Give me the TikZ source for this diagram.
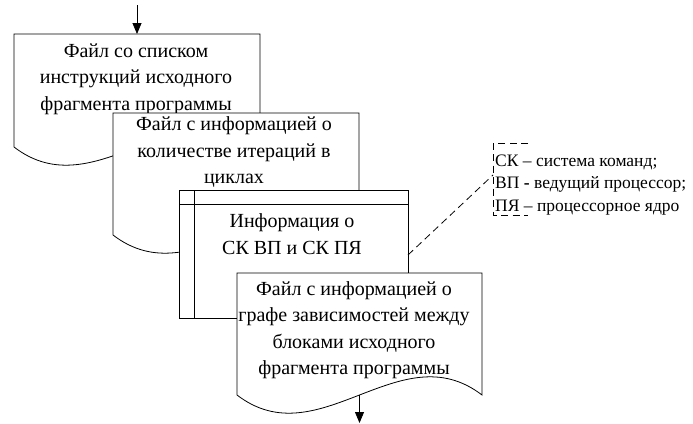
\documentclass[tikz,border=0pt]{standalone}
\usepackage{fontspec}
\setmainfont{Liberation Serif}
\newfontfamily\tnr{Liberation Serif}
\usetikzlibrary{arrows.meta}
\begin{document}
\begin{tikzpicture}[x=1pt,y=-1pt,
  blk/.style={draw, fill=white, line width=0.8pt},
  txt/.style={font=\tnr\fontsize{20}{26.5}\selectfont, align=center, inner sep=0pt},
  leg/.style={font=\tnr\fontsize{17.5}{22.5}\selectfont, align=left, inner sep=0pt},
  arr/.style={line width=0.8pt, -{Triangle[length=11pt,width=9pt]}},
  dsh/.style={line width=0.8pt, dash pattern=on 7pt off 4.5pt}]
\useasboundingbox (0,0) rectangle (693,423);
% block 1 (document)
\draw[blk] (14,34) -- (260,34) -- (260,147)
  .. controls (178,84) and (96,210) .. (14,147) -- cycle;
\node[txt] (t1) at (136,79) {Файл со списком\\инструкций исходного\\фрагмента программы};
% block 2 (document)
\draw[blk] (113,113) -- (359,113) -- (359,235)
  .. controls (277,172) and (195,298) .. (113,235) -- cycle;
\node[txt] (t2) at (234,152) {Файл с информацией о\\количестве итераций в\\циклах};
% block 3 (internal storage)
\draw[blk] (179,190) rectangle (408,318);
\draw[line width=0.8pt] (194,190) -- (194,318);
\draw[line width=0.8pt] (179,204) -- (408,204);
\node[txt] (t3) at (292,234) {Информация о\\СК ВП и СК ПЯ};
% block 4 (document)
\draw[blk] (237,273) -- (482,273) -- (482,395)
  .. controls (400,332) and (319,458) .. (237,395) -- cycle;
\node[txt] (t4) at (354,330) {Файл с информацией о\\графе зависимостей между\\блоками исходного\\фрагмента программы};
% legend
\node[leg, anchor=west] (lg) at (495,185) {СК – система команд;\\ВП {\bfseries -} ведущий процессор;\\ПЯ – процессорное ядро};
\draw[dsh] (528,143) -- (493,143) -- (493,215) -- (528,215);
% connectors
\coordinate (in) at (137,5);
\coordinate (b1top) at (137,34);
\coordinate (b4bot) at (359.5,395);
\coordinate (out) at (359.5,423);
\coordinate (b3r) at (408,255);
\coordinate (lgl) at (493,175);
\draw[arr] (in) -- (b1top);
\draw[arr] (b4bot) -- (out);
\draw[dsh] (b3r) -- (lgl);
\end{tikzpicture}
\end{document}
